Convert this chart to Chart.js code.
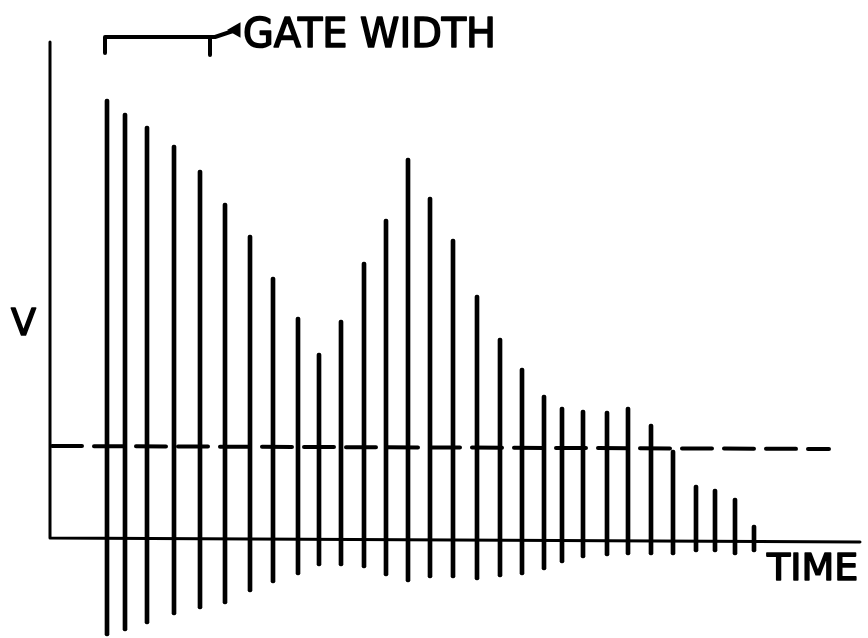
<!DOCTYPE html>
<html>
<head>
<meta charset="utf-8">
<title>Gate width</title>
<script src="https://cdn.jsdelivr.net/npm/chart.js@4.4.1/dist/chart.umd.min.js"></script>
<style>
  html, body { margin: 0; padding: 0; background: #fff; }
  #wrap { width: 868px; height: 638px; position: relative; }
</style>
</head>
<body>
<div id="wrap"><canvas id="pulseChart"></canvas></div>
<script>
// pulse train: time position, crest above the base line, trough below it
const pulseTime = [10.7, 12.5, 14.7, 17.4, 20.0, 22.5, 25.0, 27.3, 29.8, 31.9,
                   34.1, 36.4, 38.6, 40.8, 43.0, 45.3, 47.7, 50.0, 52.2, 54.4,
                   56.2, 58.3, 60.7, 62.8, 65.1, 67.3, 69.6, 71.5, 73.5, 75.4];
const pulseHigh = [43.9, 42.5, 41.2, 39.3, 36.8, 33.5, 30.3, 26.1, 22.1, 18.5,
                   21.8, 27.6, 31.9, 38.0, 34.1, 29.9, 24.3, 20.0, 17.0, 14.3,
                   13.1, 12.8, 12.7, 13.1, 11.4,  8.8,  5.3,  4.9,  4.0,  1.3];
const pulseLow  = [-9.8, -9.3, -8.6, -7.7, -7.1, -6.6, -5.4, -4.5, -3.7, -2.8,
                   -2.8, -3.0, -3.8, -4.4, -4.0, -4.0, -4.2, -3.9, -3.7, -3.2,
                   -2.5, -2.0, -1.8, -1.7, -1.7, -1.7, -1.4, -1.4, -1.7, -1.4];

// threshold level (dashed), start and end
const thresholdX = [5.2, 82.9];
const thresholdY = [9.2, 8.9];

// axes as an L: top of V axis, origin, end of TIME axis
const axisX = [5.0, 5.0, 86.0];
const axisY = [49.6, 0.0, -0.4];

// gate width bracket
const gateX = [10.5, 10.5, 21.5, 23.6];
const gateY = [48.5, 50.1, 50.1, 50.8];
const gateTickX = [21.0, 21.0];
const gateTickY = [50.1, 48.3];

const toPoints = (xs, ys) => xs.map((x, i) => ({ x: x, y: ys[i] }));

const INK = '#000';
const FONT = '"DejaVu Sans", Verdana, sans-serif';

// labels placed in data coordinates
const labelPlugin = {
    id: 'labels',
    afterDatasetsDraw(chart) {
        const { ctx, scales: { x, y } } = chart;
        ctx.save();
        ctx.fillStyle = INK;
        ctx.strokeStyle = INK;
        ctx.lineWidth = 1.6;
        ctx.lineJoin = 'round';
        ctx.textBaseline = 'alphabetic';
        ctx.textAlign = 'left';
        const put = (txt, vx, vy, w) => {
            const px = x.getPixelForValue(vx), py = y.getPixelForValue(vy);
            ctx.fillText(txt, px, py, w);
            ctx.strokeText(txt, px, py, w);
        };
        ctx.font = '41px ' + FONT;
        put('GATE WIDTH', 24.3, 49.1, 253);
        ctx.font = '38px ' + FONT;
        put('V', 1.1, 20.3, 25);
        put('TIME', 76.7, -4.2, 95);
        ctx.restore();
    }
};

const lineStyle = {
    type: 'line',
    borderColor: INK,
    borderWidth: 3,
    pointRadius: 0,
    fill: false,
    tension: 0,
    borderCapStyle: 'round',
    borderJoinStyle: 'round'
};

new Chart(document.getElementById('pulseChart'), {
    type: 'bar',
    data: {
        datasets: [
            {
                label: 'pulses',
                data: pulseTime.map((t, i) => ({ x: t, y: [pulseLow[i], pulseHigh[i]] })),
                backgroundColor: INK,
                borderWidth: 0,
                borderRadius: 2,
                borderSkipped: false,
                barThickness: 4
            },
            Object.assign({}, lineStyle, {
                label: 'axes',
                data: toPoints(axisX, axisY)
            }),
            Object.assign({}, lineStyle, {
                label: 'threshold',
                data: toPoints(thresholdX, thresholdY),
                borderWidth: 4,
                borderDash: [30, 12],
                borderCapStyle: 'round'
            }),
            Object.assign({}, lineStyle, {
                label: 'gate',
                data: toPoints(gateX, gateY),
                borderWidth: 4,
                pointStyle: 'triangle',
                pointRotation: 270,
                pointRadius: [0, 0, 0, 5],
                pointBackgroundColor: INK,
                pointBorderColor: INK
            }),
            Object.assign({}, lineStyle, {
                label: 'gate tick',
                data: toPoints(gateTickX, gateTickY),
                borderWidth: 4
            })
        ]
    },
    options: {
        responsive: true,
        maintainAspectRatio: false,
        animation: false,
        layout: { padding: 0, autoPadding: false },
        plugins: {
            legend: { display: false },
            tooltip: { enabled: false },
            title: { display: false }
        },
        scales: {
            x: { type: 'linear', min: 0, max: 86.8, display: false, offset: false },
            y: { type: 'linear', min: -10, max: 53.8, display: false }
        }
    },
    plugins: [labelPlugin]
});
</script>
</body>
</html>
